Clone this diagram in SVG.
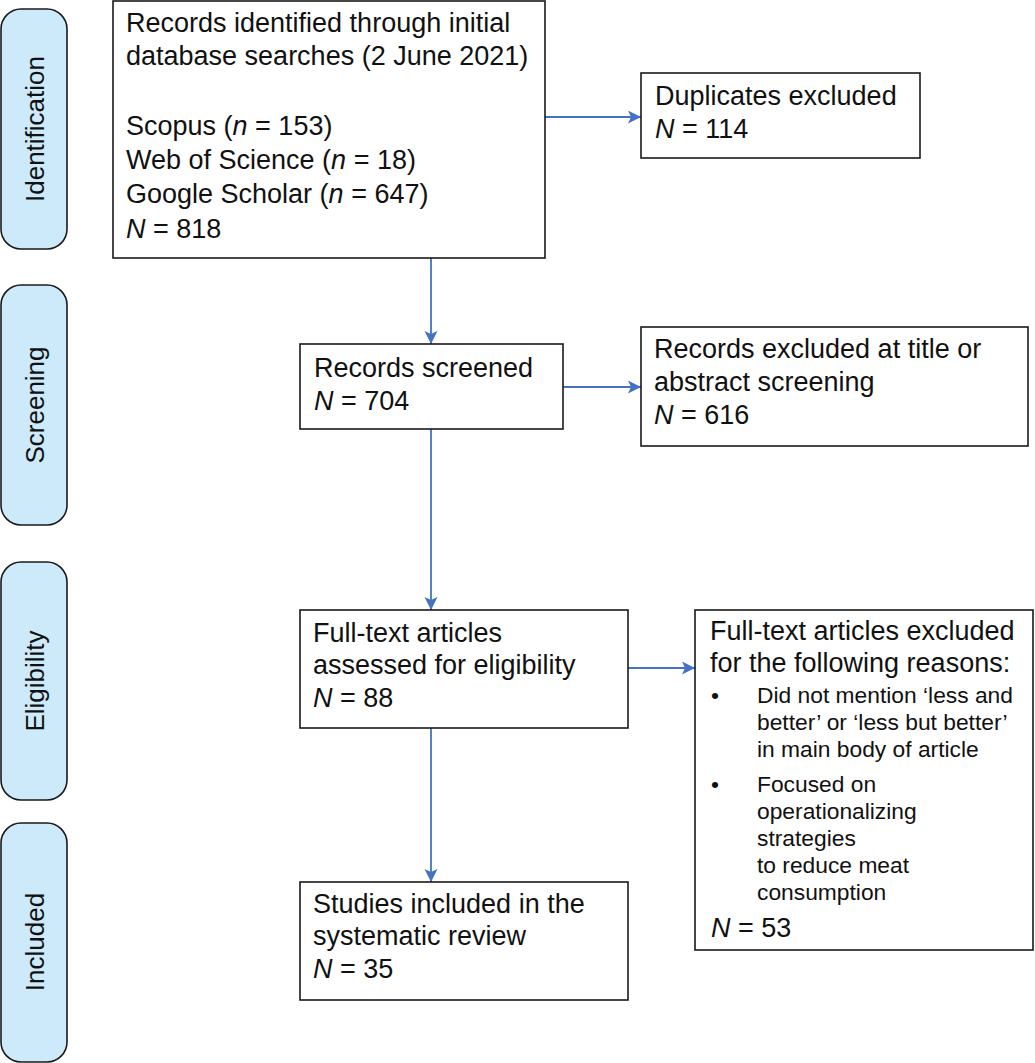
<svg xmlns="http://www.w3.org/2000/svg" width="1035" height="1063" viewBox="0 0 1035 1063">
<style>
  .box { fill: #ffffff; stroke: #1a1a1a; stroke-width: 1.6; }
  .stage { fill: #cdeafb; stroke: #1a1a1a; stroke-width: 1.6; }
  .t { font-family: "Liberation Sans", Arial, Helvetica, sans-serif; font-size: 27px; fill: #111111; }
  .s { font-family: "Liberation Sans", Arial, Helvetica, sans-serif; font-size: 26px; fill: #111111; }
  .b { font-family: "Liberation Sans", Arial, Helvetica, sans-serif; font-size: 22.8px; fill: #111111; }
  .i { font-style: italic; }
  .conn { stroke: #4472c4; stroke-width: 1.8; fill: none; }
</style>
<defs>
  <marker id="arrow" markerUnits="userSpaceOnUse" markerWidth="14" markerHeight="14" refX="13" refY="6.5" orient="auto">
    <path d="M0,0 L13,6.5 L0,13 L3,6.5 z" fill="#4472c4"/>
  </marker>
</defs>
<rect width="1035" height="1063" fill="#ffffff"/>

<g id="stage-identification">
  <rect class="stage" x="1" y="9" width="66" height="240" rx="20" ry="20"/>
  <text class="s" text-anchor="middle" transform="translate(43.5,129) rotate(-90)">Identification</text>
</g>
<g id="stage-screening">
  <rect class="stage" x="1" y="285" width="66" height="240" rx="20" ry="20"/>
  <text class="s" text-anchor="middle" transform="translate(43.5,405) rotate(-90)">Screening</text>
</g>
<g id="stage-eligibility">
  <rect class="stage" x="1" y="562" width="66" height="238" rx="20" ry="20"/>
  <text class="s" text-anchor="middle" transform="translate(43.5,681) rotate(-90)">Eligibility</text>
</g>
<g id="stage-included">
  <rect class="stage" x="1" y="823" width="66" height="239" rx="20" ry="20"/>
  <text class="s" text-anchor="middle" transform="translate(43.5,942) rotate(-90)">Included</text>
</g>

<g id="connectors">
  <line class="conn" x1="545" y1="117" x2="641" y2="117" marker-end="url(#arrow)"/>
  <line class="conn" x1="431" y1="258" x2="431" y2="344" marker-end="url(#arrow)"/>
  <line class="conn" x1="563" y1="387" x2="641" y2="387" marker-end="url(#arrow)"/>
  <line class="conn" x1="431" y1="429" x2="431" y2="610" marker-end="url(#arrow)"/>
  <line class="conn" x1="628" y1="668" x2="695" y2="668" marker-end="url(#arrow)"/>
  <line class="conn" x1="431" y1="728" x2="431" y2="882" marker-end="url(#arrow)"/>
</g>

<g id="node-identified">
  <rect class="box" x="113" y="1" width="432" height="257"/>
  <text class="t">
    <tspan x="126" y="32">Records identified through initial</tspan>
    <tspan x="126" y="65">database searches (2 June 2021)</tspan>
    <tspan x="126" y="135">Scopus (<tspan class="i">n</tspan> = 153)</tspan>
    <tspan x="126" y="169">Web of Science (<tspan class="i">n</tspan> = 18)</tspan>
    <tspan x="126" y="203">Google Scholar (<tspan class="i">n</tspan> = 647)</tspan>
    <tspan x="126" y="238"><tspan class="i">N</tspan> = 818</tspan>
  </text>
</g>

<g id="node-duplicates">
  <rect class="box" x="641" y="73" width="279" height="85"/>
  <text class="t">
    <tspan x="655" y="105">Duplicates excluded</tspan>
    <tspan x="655" y="138"><tspan class="i">N</tspan> = 114</tspan>
  </text>
</g>

<g id="node-screened">
  <rect class="box" x="300" y="344" width="263" height="85"/>
  <text class="t">
    <tspan x="314" y="377">Records screened</tspan>
    <tspan x="314" y="410"><tspan class="i">N</tspan> = 704</tspan>
  </text>
</g>

<g id="node-excluded-title">
  <rect class="box" x="641" y="327" width="387" height="119"/>
  <text class="t">
    <tspan x="654" y="358">Records excluded at title or</tspan>
    <tspan x="654" y="391">abstract screening</tspan>
    <tspan x="654" y="424"><tspan class="i">N</tspan> = 616</tspan>
  </text>
</g>

<g id="node-fulltext">
  <rect class="box" x="300" y="610" width="328" height="118"/>
  <text class="t">
    <tspan x="313" y="642">Full-text articles</tspan>
    <tspan x="313" y="674">assessed for eligibility</tspan>
    <tspan x="313" y="707"><tspan class="i">N</tspan> = 88</tspan>
  </text>
</g>

<g id="node-fulltext-excluded">
  <rect class="box" x="695" y="610" width="338" height="340"/>
  <text class="t">
    <tspan x="710" y="640">Full-text articles excluded</tspan>
    <tspan x="710" y="672">for the following reasons:</tspan>
  </text>
  <text class="b">
    <tspan x="711" y="703">•</tspan>
    <tspan x="711" y="792">•</tspan>
  </text>
  <text class="b">
    <tspan x="757" y="703">Did not mention ‘less and</tspan>
    <tspan x="757" y="730">better’ or ‘less but better’</tspan>
    <tspan x="757" y="757">in main body of article</tspan>
    <tspan x="757" y="792">Focused on</tspan>
    <tspan x="757" y="819">operationalizing</tspan>
    <tspan x="757" y="846">strategies</tspan>
    <tspan x="757" y="873">to reduce meat</tspan>
    <tspan x="757" y="900">consumption</tspan>
  </text>
  <text class="t">
    <tspan x="711" y="937"><tspan class="i">N</tspan> = 53</tspan>
  </text>
</g>

<g id="node-included">
  <rect class="box" x="300" y="882" width="328" height="118"/>
  <text class="t">
    <tspan x="313" y="913">Studies included in the</tspan>
    <tspan x="313" y="945">systematic review</tspan>
    <tspan x="313" y="978"><tspan class="i">N</tspan> = 35</tspan>
  </text>
</g>
</svg>
